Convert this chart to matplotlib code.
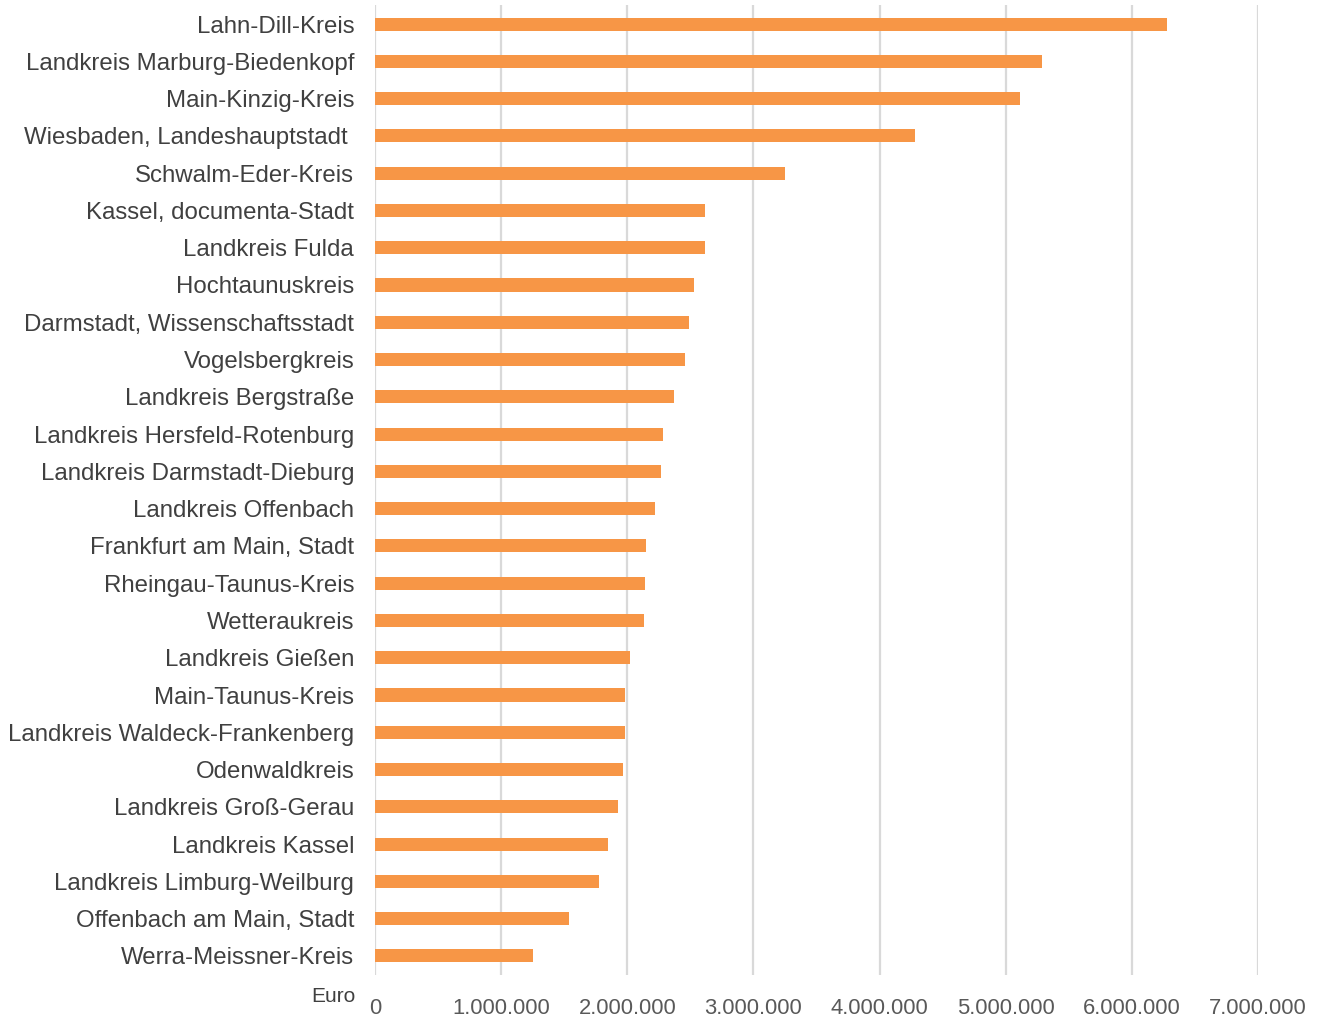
import matplotlib.pyplot as plt
from matplotlib.ticker import FuncFormatter

# Kreise / kreisfreie Staedte, top to bottom
kreise = ["Lahn-Dill-Kreis", "Landkreis Marburg-Biedenkopf", "Main-Kinzig-Kreis",
          "Wiesbaden, Landeshauptstadt ", "Schwalm-Eder-Kreis", "Kassel, documenta-Stadt",
          "Landkreis Fulda", "Hochtaunuskreis", "Darmstadt, Wissenschaftsstadt",
          "Vogelsbergkreis", "Landkreis Bergstraße", "Landkreis Hersfeld-Rotenburg",
          "Landkreis Darmstadt-Dieburg", "Landkreis Offenbach", "Frankfurt am Main, Stadt",
          "Rheingau-Taunus-Kreis", "Wetteraukreis", "Landkreis Gießen", "Main-Taunus-Kreis",
          "Landkreis Waldeck-Frankenberg", "Odenwaldkreis", "Landkreis Groß-Gerau",
          "Landkreis Kassel", "Landkreis Limburg-Weilburg", "Offenbach am Main, Stadt",
          "Werra-Meissner-Kreis"]
euro = [6280000, 5290000, 5110000, 4280000, 3250000, 2620000, 2615000, 2530000,
        2490000, 2455000, 2370000, 2285000, 2270000, 2220000, 2150000, 2140000,
        2130000, 2020000, 1985000, 1980000, 1965000, 1930000, 1850000, 1775000,
        1540000, 1250000]
xticks = [0, 1000000, 2000000, 3000000, 4000000, 5000000, 6000000, 7000000]

fig = plt.figure(figsize=(13.21, 10.19), dpi=100)
ax = fig.add_axes([375 / 1321, 44.4 / 1019, 883 / 1321, 969.2 / 1019])

ypos = list(range(len(kreise)))
ax.barh(ypos, euro, height=0.35, color='#f79646', zorder=3)
ax.set_ylim(len(kreise) - 0.5, -0.5)
ax.set_yticks(ypos)
ax.set_yticklabels(kreise, fontsize=17.3, color='#404040', family=['Liberation Sans', 'DejaVu Sans'])

ax.set_xlim(0, 7000000)
ax.set_xticks(xticks)
ax.xaxis.set_major_formatter(FuncFormatter(lambda v, p: f"{int(v):,}".replace(",", ".")))
for lbl in ax.get_xticklabels():
    lbl.set_fontsize(15.8)
    lbl.set_color('#595959')
    lbl.set_family(['Liberation Sans Narrow', 'Liberation Sans', 'DejaVu Sans'])

ax.tick_params(axis='y', length=0, pad=15)
ax.tick_params(axis='x', length=0, pad=16.5)
ax.grid(axis='x', color='#d9d9d9', linewidth=1.6, zorder=0)
for s in ax.spines.values():
    s.set_visible(False)

fig.text(333 / 1321, 1 - 996 / 1019, "Euro", fontsize=15, color='#404040',
         ha='center', va='center', family=['Liberation Sans Narrow', 'Liberation Sans', 'DejaVu Sans'])

fig.savefig("out.png", dpi=100)
